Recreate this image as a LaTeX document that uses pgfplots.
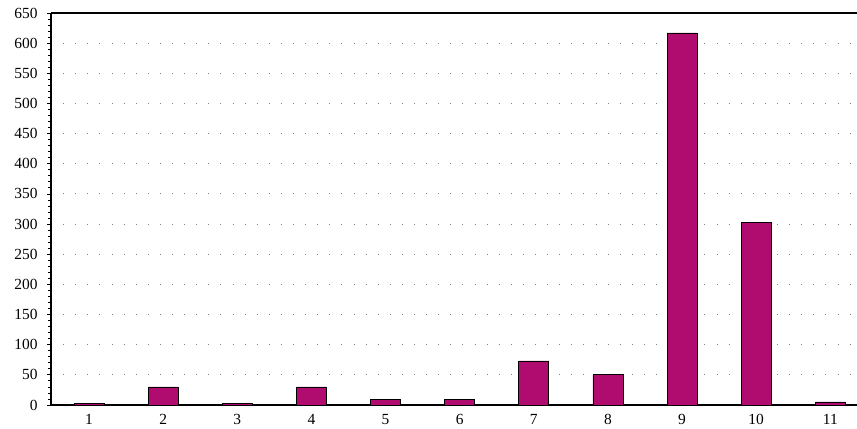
\documentclass[border=0pt]{standalone}
\usepackage{fontspec}
\setmainfont{Liberation Serif}
\usepackage{pgfplots}
\pgfplotsset{compat=1.18}
\definecolor{barcol}{RGB}{176,12,111}
\begin{document}
\begin{tikzpicture}
\begin{axis}[
  scale only axis,
  width=806bp, height=392bp,
  at={(51bp,24bp)}, anchor=south west,
  xmin=0.487, xmax=11.36,
  ymin=0, ymax=650,
  axis x line=box, axis y line=left,
  axis line style={-, line width=1.8bp},
  xtick={1,...,11},
  ytick={0,50,...,650},
  minor y tick num=4,
  tick align=outside,
  major tick length=4bp, minor tick length=3bp,
  every tick/.style={black, line width=0.8bp},
  x tick style={draw=none},
  ymajorgrids,
  major grid style={gray, line width=0.9bp, dash pattern=on 0.9bp off 11.2bp},
  /pgf/number format/assume math mode=true,
  tick label style={font=\fontsize{15.5}{18}\selectfont},
  xticklabel style={yshift=-2bp},
  yticklabel style={xshift=-6bp},
  clip=false,
]
\addplot[ybar, bar width=30bp, fill=barcol, draw=black, line width=0.8bp]
coordinates {(1,2) (2,30) (3,2) (4,30) (5,9) (6,9) (7,73) (8,50) (9,617) (10,302) (11,5)};
\end{axis}
\pgfresetboundingbox
\path[use as bounding box] (0,0) rectangle (857bp,429bp);
\end{tikzpicture}
\end{document}
